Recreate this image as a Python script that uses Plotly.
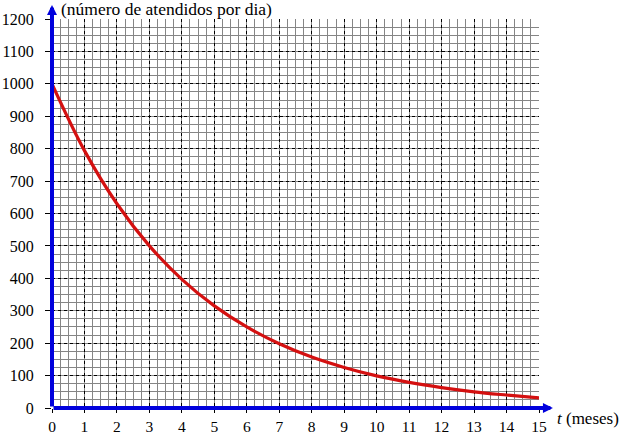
import plotly.graph_objects as go

t_meses = [0, 1, 2, 3, 4, 5, 6, 7, 8, 9, 10, 11, 12, 13, 14, 15]
atendidos = [1000, 794, 630, 500, 397, 315, 250, 198, 157, 125, 99, 79, 63, 50, 40, 31]
x_ticks = list(range(0, 16))
y_ticks = list(range(0, 1300, 100))

FONT = "Liberation Serif, DejaVu Serif, serif"
BLUE = "#0000dd"
W, H = 623, 437
L, R, T, B = 52, 84, 19, 29
PW, PH = W - L - R, H - T - B

fig = go.Figure()
fig.add_trace(go.Scatter(
    x=t_meses, y=atendidos, mode="lines",
    line=dict(color="#d41010", width=3.2, shape="spline", smoothing=1.0),
    hoverinfo="skip", showlegend=False, cliponaxis=False,
))

common = dict(
    showgrid=True, gridcolor="black", griddash="dot", gridwidth=1,
    zeroline=False, showline=False, automargin=False,
    ticks="outside", tickcolor="black", tickwidth=1,
)

fig.update_xaxes(range=[0, 15], tickvals=x_ticks, ticktext=[str(v) for v in x_ticks],
                 ticklen=4, ticklabelstandoff=0,
                 tickfont=dict(family=FONT, size=15.5, color="black"),
                 minor=dict(dtick=0.25, tick0=0, showgrid=True, gridcolor="#858585",
                            gridwidth=1, griddash="solid", ticks=""),
                 **common)
fig.update_yaxes(range=[0, 1200], tickvals=y_ticks, ticktext=[str(v) for v in y_ticks],
                 ticklen=6, ticklabelstandoff=8,
                 tickfont=dict(family=FONT, size=16, color="black"),
                 minor=dict(dtick=25, tick0=0, showgrid=True, gridcolor="#858585",
                            gridwidth=1, griddash="solid", ticks=""),
                 **common)

# axes with arrows
fig.add_annotation(x=15.43, y=0, ax=0, ay=0, axref="x", ayref="y", xref="x", yref="y",
                   text="", showarrow=True, arrowhead=2, arrowsize=0.5, arrowwidth=4, arrowcolor=BLUE)
fig.add_annotation(x=0, y=1243, ax=0, ay=0, axref="x", ayref="y", xref="x", yref="y",
                   text="", showarrow=True, arrowhead=2, arrowsize=0.5, arrowwidth=4, arrowcolor=BLUE)

fig.add_annotation(x=(59 - L) / PW, y=(H - B - 9) / PH, xref="paper", yref="paper",
                   xanchor="left", yanchor="middle",
                   text="(número de atendidos por dia)", showarrow=False,
                   font=dict(family=FONT, size=17.5, color="black"))
fig.add_annotation(x=(555 - L) / PW, y=(H - B - 418) / PH, xref="paper", yref="paper",
                   xanchor="left", yanchor="middle",
                   text="<i>t</i> (meses)", showarrow=False,
                   font=dict(family=FONT, size=17, color="black"))

fig.update_layout(
    width=W, height=H,
    margin=dict(l=L, r=R, t=T, b=B, autoexpand=False),
    plot_bgcolor="white", paper_bgcolor="white",
)

fig.write_html("out.html", config={"displayModeBar": False},
               post_script="document.body.style.margin='0px';")
